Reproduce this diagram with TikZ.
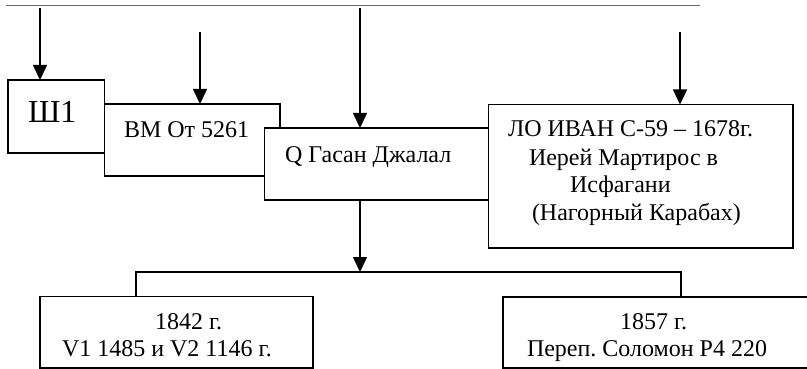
\documentclass[tikz,border=0pt]{standalone}
\usepackage{fontspec}
\setmainfont{Liberation Serif}
\usetikzlibrary{arrows.meta}
\frenchspacing
\begin{document}
\begin{tikzpicture}[x=1pt,y=-1pt,
  box/.style={draw=black,fill=white,line width=1.8pt,rectangle,inner sep=0pt,outer sep=0pt,anchor=north west},
  txt/.style={inner sep=0pt,outer sep=0pt,anchor=base west,font=\fontsize{24}{28}\selectfont},
  arr/.style={line width=1.4pt,-{Triangle[length=15pt,width=14pt]}},
  con/.style={line width=1.5pt}]
\useasboundingbox (0,0) rectangle (807,369);
% top rule
\coordinate (t1) at (6,5.5);
\coordinate (t2) at (700,5.5);
\draw[black!60,line width=1.5pt] (t1) -- (t2);
% boxes
\node[box,minimum width=96.5pt,minimum height=73pt] (sh) at (8,80) {};
\node[box,minimum width=175.5pt,minimum height=72pt] (bm) at (104.5,104) {};
\node[box,minimum width=235pt,minimum height=72pt] (q) at (264.5,128) {};
\node[box,minimum width=304.5pt,minimum height=143.5pt] (lo) at (488.5,104.5) {};
\node[box,minimum width=273pt,minimum height=71.5pt] (b1) at (40,296.5) {};
\node[box,minimum width=305pt,minimum height=71pt] (b2) at (503,297) {};
% texts
\node[txt,font=\fontsize{32}{36}\selectfont] (tsh) at (28,122) {Ш1};
\node[txt] (tbm) at (124,138) {ВМ От 5261};
\node[txt] (tq) at (285,163) {Q Гасан Джалал};
\node[txt] (tlo1) at (508,136.7) {ЛО ИВАН С-59 – 1678г.};
\node[txt] (tlo2) at (529,165) {Иерей Мартирос в};
\node[txt] (tlo3) at (570,193) {Исфагани};
\node[txt] (tlo4) at (532,220) {(Нагорный Карабах)};
\node[txt] (tb11) at (155,329) {1842 г.};
\node[txt] (tb12) at (62,356.7) {V1 1485 и V2 1146 г.};
\node[txt] (tb21) at (620,329) {1857 г.};
\node[txt] (tb22) at (527,356.7) {Переп. Соломон Р4 220};
% arrows in
\coordinate (a1) at (40,8);
\coordinate (a2) at (200,32);
\coordinate (a3) at (360,8);
\coordinate (a4) at (680,32);
\draw[arr] (a1) -- (a1 |- sh.north);
\draw[arr] (a2) -- (a2 |- bm.north);
\draw[arr] (a3) -- (a3 |- q.north);
\draw[arr] (a4) -- (a4 |- lo.north);
% arrow out and split
\coordinate (j) at (360,272);
\coordinate (jl) at (136,272);
\coordinate (jr) at (681,272);
\draw[arr] (j |- q.south) -- (j);
\draw[con] (jl |- b1.north) -- (jl) -- (jr) -- (jr |- b2.north);
\end{tikzpicture}
\end{document}
